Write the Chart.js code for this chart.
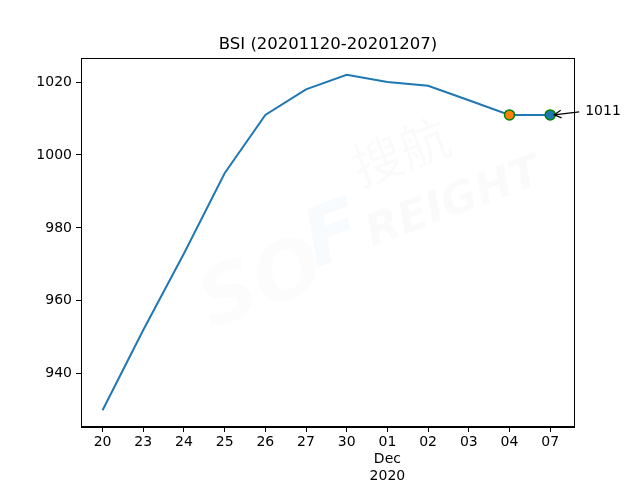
<!DOCTYPE html>
<html>
<head>
<meta charset="utf-8">
<script src="https://cdn.jsdelivr.net/npm/chart.js@4/dist/chart.umd.min.js"></script>
<style>
  html, body { margin: 0; padding: 0; background: #fff; }
  #wrap { width: 640px; height: 480px; }
</style>
</head>
<body>
<div id="wrap"><canvas id="bsiChart" width="640" height="480"></canvas></div>
<script>
const dayLabels = ['20', '23', '24', '25', '26', '27', '30', '01', '02', '03', '04', '07'];
const bsiValues = [930, 952, 973, 995, 1011, 1018, 1022, 1020, 1019, 1015, 1011, 1011];
const yTicks = [940, 960, 980, 1000, 1020];
const markOrange = [{ x: 10, y: 1011 }];
const markBlue = [{ x: 11, y: 1011 }];
const annoText = '1011';
const titleText = 'BSI (20201120-20201207)';

const FONT = 'DejaVu Sans';

const framePlugin = {
    id: 'frame',
    beforeDatasetsDraw(chart) {
        const c = chart.ctx;
        const a = chart.chartArea;
        // faint watermark
        c.save();
        c.beginPath();
        c.rect(a.left, a.top, a.right - a.left, a.bottom - a.top);
        c.clip();
        c.translate(330, 220);
        c.rotate(-0.36);
        c.font = 'italic bold 80px "DejaVu Sans"';
        c.fillStyle = 'rgba(0,0,0,0.012)';
        c.fillText('SO', -150, 60);
        c.fillStyle = 'rgba(30,120,200,0.03)';
        c.fillText('F', -30, 40);
        c.font = '50px "Noto Sans CJK SC"';
        c.fillStyle = 'rgba(0,0,0,0.018)';
        c.fillText('搜航', 40, -20);
        c.font = 'italic bold 44px "DejaVu Sans"';
        c.fillText('REIGHT', 30, 40);
        c.restore();
    },
    afterDraw(chart) {
        const c = chart.ctx;
        const a = chart.chartArea;
        c.save();
        c.fillStyle = '#fff';
        c.fillRect(a.right, a.bottom - 2, 10, 4);
        c.strokeStyle = '#000';
        c.lineWidth = 1;
        c.strokeRect(a.left + 0.5, a.top + 0.5, a.right - a.left - 1, a.bottom - a.top - 1);

        c.fillStyle = '#000';
        c.font = '16.5px "' + FONT + '"';
        c.textAlign = 'center';
        c.textBaseline = 'bottom';
        c.fillText(titleText, (a.left + a.right) / 2, a.top - 5);

        // annotation with arrow
        const px = chart.scales.x.getPixelForValue(markBlue[0].x);
        const py = chart.scales.y.getPixelForValue(markBlue[0].y);
        const tx = px + 35, ty = py - 4;
        c.font = '14px "' + FONT + '"';
        c.textAlign = 'left';
        c.textBaseline = 'middle';
        c.fillText(annoText, tx, ty);
        const sx = tx - 6, sy = ty + 1;
        const ex = px + 4, ey = py;
        c.lineWidth = 1.2;
        c.beginPath();
        c.moveTo(sx, sy);
        c.lineTo(ex, ey);
        const ang = Math.atan2(ey - sy, ex - sx);
        c.moveTo(ex - 8 * Math.cos(ang - 0.5), ey - 8 * Math.sin(ang - 0.5));
        c.lineTo(ex, ey);
        c.lineTo(ex - 8 * Math.cos(ang + 0.5), ey - 8 * Math.sin(ang + 0.5));
        c.stroke();
        c.restore();
    }
};

new Chart(document.getElementById('bsiChart'), {
    type: 'line',
    data: {
        datasets: [
            {
                data: markOrange,
                showLine: false,
                pointRadius: 5,
                pointBackgroundColor: '#ff7f0e',
                pointBorderColor: '#008000',
                pointBorderWidth: 1.5,
                order: 0
            },
            {
                data: markBlue,
                showLine: false,
                pointRadius: 5,
                pointBackgroundColor: '#1f77b4',
                pointBorderColor: '#008000',
                pointBorderWidth: 1.5,
                order: 0
            },
            {
                data: bsiValues.map((v, i) => ({ x: i, y: v })),
                borderColor: '#1f77b4',
                borderWidth: 2,
                pointRadius: 0,
                tension: 0,
                fill: false,
                order: 1
            }
        ]
    },
    options: {
        responsive: false,
        animation: false,
        layout: { padding: { top: 58, right: 65, left: 0, bottom: 0 } },
        plugins: {
            legend: { display: false },
            tooltip: { enabled: false }
        },
        scales: {
            x: {
                type: 'linear',
                min: -0.53,
                max: 11.61,
                afterBuildTicks(scale) {
                    scale.ticks = dayLabels.map((_, i) => ({ value: i }));
                },
                afterFit(scale) { scale.height = 53; },
                grid: { drawOnChartArea: false, tickLength: 5, tickColor: '#000' },
                border: { color: '#000' },
                ticks: {
                    color: '#000',
                    font: { family: FONT, size: 14 },
                    padding: 2,
                    maxRotation: 0,
                    autoSkip: false,
                    callback(v) {
                        const lbl = dayLabels[v];
                        return lbl === '01' ? [lbl, 'Dec', '2020'] : lbl;
                    }
                }
            },
            y: {
                min: 925.4,
                max: 1026.6,
                afterBuildTicks(scale) {
                    scale.ticks = yTicks.map(v => ({ value: v }));
                },
                afterFit(scale) { scale.width = 81; },
                grid: { drawOnChartArea: false, tickLength: 5, tickColor: '#000' },
                border: { color: '#000' },
                ticks: {
                    color: '#000',
                    font: { family: FONT, size: 14 },
                    padding: 4,
                    callback(v) { return String(v); }
                }
            }
        }
    },
    plugins: [framePlugin]
});
</script>
</body>
</html>
